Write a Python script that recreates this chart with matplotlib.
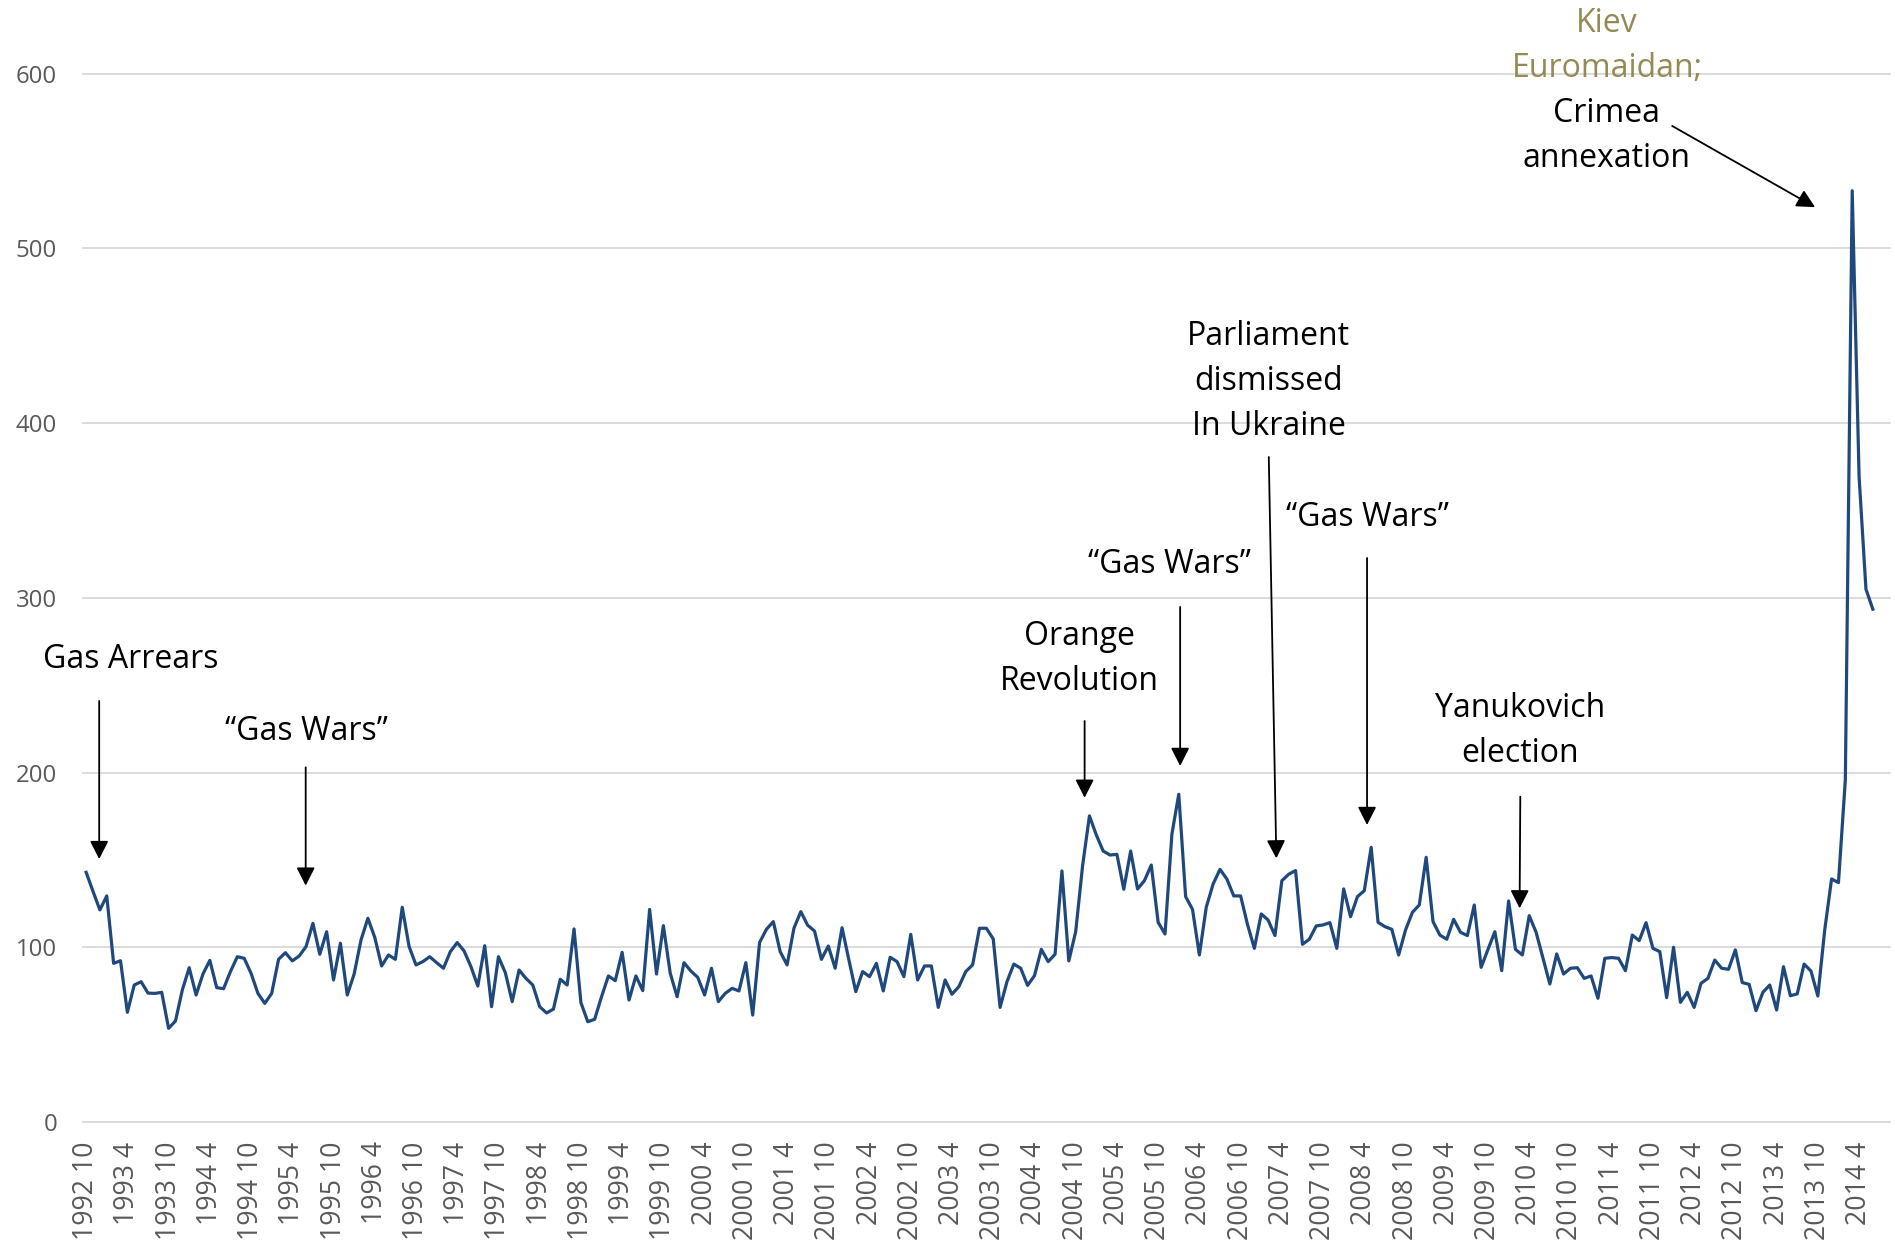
import numpy as np
import matplotlib
matplotlib.use("Agg")
import matplotlib.pyplot as plt

# ---------------- data ----------------
start_year, start_month = 1992, 10
n_categories = 263  # category axis runs 1992 10 .. 2014 8
categories = [f"{start_year + (start_month - 1 + k) // 12} {(start_month - 1 + k) % 12 + 1}"
              for k in range(n_categories)]

values = [
    142.9, 132.0, 121.4, 129.4, 90.8, 92.3, 62.8, 78.4, 80.3, 73.8,
    73.6, 74.2, 53.6, 57.8, 75.6, 88.3, 72.7, 84.7, 92.5, 76.9,
    76.3, 86.1, 94.6, 93.7, 85.1, 73.6, 67.9, 73.6, 93.1, 96.9,
    92.2, 95.0, 100.4, 113.7, 96.0, 108.9, 81.3, 102.3, 72.7, 84.7,
    104.2, 116.6, 105.7, 89.3, 95.6, 93.1, 122.9, 100.4, 89.9, 91.8,
    94.6, 91.2, 88.0, 97.5, 102.7, 97.9, 88.9, 77.8, 100.9, 66.0,
    94.6, 85.5, 68.9, 87.0, 82.2, 78.4, 66.0, 62.4, 64.6, 81.7,
    78.4, 110.5, 68.3, 57.4, 58.8, 71.7, 83.6, 80.9, 97.1, 69.8,
    83.6, 75.2, 121.7, 84.7, 112.4, 85.1, 71.7, 91.2, 86.4, 82.8,
    72.7, 88.0, 68.9, 73.6, 76.5, 75.0, 91.2, 61.2, 102.7, 110.3,
    114.7, 97.5, 89.9, 110.9, 120.4, 112.6, 109.3, 93.1, 100.7, 88.0,
    111.2, 92.7, 74.6, 86.1, 83.2, 90.8, 75.0, 94.3, 91.8, 83.2,
    107.4, 81.3, 89.3, 89.3, 65.6, 81.3, 73.1, 77.5, 86.1, 89.9,
    110.9, 110.9, 104.8, 65.6, 80.3, 90.4, 88.0, 78.2, 83.7, 98.8,
    91.8, 96.0, 143.7, 92.2, 108.9, 146.5, 175.2, 164.3, 155.1, 152.8,
    153.2, 133.2, 155.1, 133.4, 138.1, 147.1, 114.3, 107.6, 164.7, 187.6,
    129.0, 121.7, 95.6, 122.9, 136.2, 144.6, 139.1, 129.4, 129.4, 113.1,
    99.4, 119.1, 115.6, 106.7, 138.1, 141.8, 143.9, 101.7, 104.6, 112.2,
    112.8, 114.1, 99.4, 133.4, 117.5, 129.0, 132.4, 157.2, 114.3, 111.8,
    110.3, 95.6, 109.9, 120.0, 124.2, 151.5, 114.7, 107.0, 104.6, 116.0,
    108.6, 106.7, 124.2, 88.5, 98.8, 108.9, 86.6, 126.5, 98.8, 95.6,
    118.1, 108.6, 93.7, 79.0, 96.2, 84.7, 88.0, 88.3, 82.2, 83.6,
    70.8, 93.7, 94.1, 93.7, 86.6, 107.0, 103.8, 114.1, 99.4, 97.5,
    71.2, 100.0, 68.5, 74.2, 65.6, 79.4, 82.2, 92.7, 88.0, 87.4,
    98.5, 79.8, 78.8, 63.7, 74.2, 78.4, 64.1, 88.9, 72.3, 73.3,
    90.4, 86.4, 72.1, 109.9, 139.1, 137.0, 195.8, 533.0, 369.5, 305.0,
    293.5,
]

tick_labels = [
    "1992 10", "1993 4", "1993 10", "1994 4", "1994 10", "1995 4", "1995 10",
    "1996 4", "1996 10", "1997 4", "1997 10", "1998 4", "1998 10", "1999 4",
    "1999 10", "2000 4", "2000 10", "2001 4", "2001 10", "2002 4", "2002 10",
    "2003 4", "2003 10", "2004 4", "2004 10", "2005 4", "2005 10", "2006 4",
    "2006 10", "2007 4", "2007 10", "2008 4", "2008 10", "2009 4", "2009 10",
    "2010 4", "2010 10", "2011 4", "2011 10", "2012 4", "2012 10", "2013 4",
    "2013 10", "2014 4",
]

y_ticks = [0, 100, 200, 300, 400, 500, 600]

OLIVE = "#948A54"
# (lines, line colours, text x [category idx], last-line baseline [value],
#  arrow tail (idx, value), arrow tip (idx, value))
annotations = [
    (["Gas Arrears"], ["black"], 6.45, 260.0, (1.9, 241.0), (1.9, 150.5)),
    (["\u201cGas Wars\u201d"], ["black"], 32.0, 218.5, (31.95, 203.0), (31.95, 135.3)),
    (["Orange", "Revolution"], ["black"] * 2, 144.5, 247.0, (145.3, 229.5), (145.3, 185.6)),
    (["\u201cGas Wars\u201d"], ["black"], 157.7, 314.5, (159.2, 294.8), (159.2, 203.8)),
    (["Parliament", "dismissed", "In Ukraine"], ["black"] * 3, 172.1, 393.0,
     (172.1, 380.6), (173.2, 150.9)),
    (["\u201cGas Wars\u201d"], ["black"], 186.4, 341.0, (186.4, 322.8), (186.4, 170.0)),
    (["Yanukovich", "election"], ["black"] * 2, 208.7, 206.0, (208.7, 186.2), (208.6, 122.3)),
    (["Kiev", "Euromaidan;", "Crimea", "annexation"], [OLIVE, OLIVE, "black", "black"],
     221.3, 546.8, (230.8, 570.1), (251.6, 523.6)),
]

# ---------------- figure ----------------
plt.rcParams['font.family'] = ['Open Sans', 'DejaVu Sans']

W, H = 1895, 1249
fig = plt.figure(figsize=(W / 100, H / 100), dpi=100)
ax_left, ax_right, ax_bottom, ax_top = 82.7, 1890.0, 1122.0, 73.7
ax = fig.add_axes([ax_left / W, 1 - ax_bottom / H, (ax_right - ax_left) / W,
                   (ax_bottom - ax_top) / H])

x = np.arange(len(values))
ax.plot(x, values, color="#1F497D", lw=2.3, solid_joinstyle="round", zorder=3)

ax.set_xlim(-0.5, n_categories - 0.5)
ax.set_ylim(y_ticks[0], y_ticks[-1])

tick_pos = [categories.index(lbl) for lbl in tick_labels]
ax.set_xticks(tick_pos)
ax.set_xticklabels(tick_labels, rotation=90, fontsize=19.2, color="#595959")
ax.set_yticks(y_ticks)
ax.set_yticklabels([str(v) for v in y_ticks], fontsize=17.3, color="#595959")
ax.tick_params(axis="x", length=0, pad=14)
ax.tick_params(axis="y", length=0, pad=18.5)

for s in ax.spines.values():
    s.set_visible(False)
ax.yaxis.grid(True, color="#D9D9D9", lw=1.3)
ax.set_axisbelow(True)
for gl in ax.get_ygridlines():
    gl.set_clip_on(False)

# ---------------- annotations ----------------
line_step_pt = 45 * 72 / 100  # 45 px between baselines
for lines, colors, tx, tbase, tail, tip in annotations:
    n = len(lines)
    for k, (ln, col) in enumerate(zip(lines, colors)):
        ax.annotate(ln, xy=(tx, tbase), xytext=(0, (n - 1 - k) * line_step_pt),
                    textcoords="offset points", ha="center", va="baseline",
                    fontsize=23.0, color=col, annotation_clip=False)
    ax.annotate("", xy=tip, xytext=tail,
                arrowprops=dict(arrowstyle="-|>,head_length=0.55,head_width=0.28",
                                mutation_scale=20, lw=1.3, color="black",
                                shrinkA=0, shrinkB=0),
                annotation_clip=False)

fig.savefig("out.png", dpi=100)
